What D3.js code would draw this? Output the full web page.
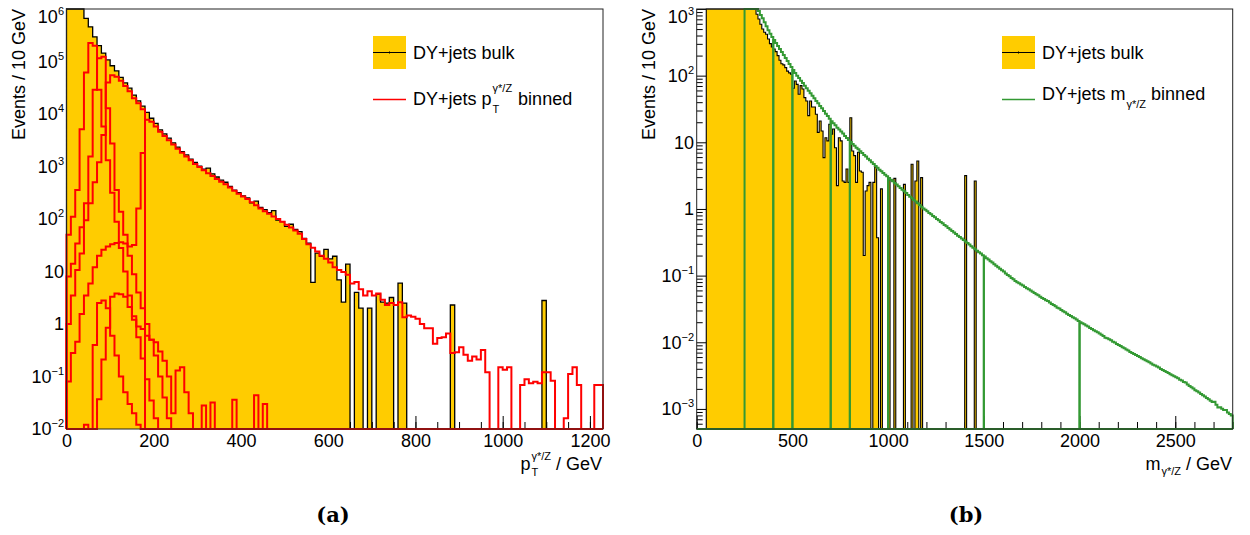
<!DOCTYPE html>
<html><head><meta charset="utf-8">
<script src="https://cdn.jsdelivr.net/npm/d3@7"></script>
<style>
body{margin:0;background:#fff}
svg{display:block}
text{font-family:"Liberation Sans",Arial,Helvetica,sans-serif;fill:#000;white-space:pre}
</style></head>
<body><svg id="c" width="1250" height="535"></svg>
<script>
// ---------------- DATA ----------------
const binWidth = 10;
const ptRange = [0, 1230];
const massRange = [0, 2800];
const ptYDomain = [1e-2, 1e6];
const massYDomain = [5e-4, 1e3];
const ptMajorTicks = [0, 200, 400, 600, 800, 1000, 1200];
const massMajorTicks = [0, 500, 1000, 1500, 2000, 2500];
const ptDecades = [-2, -1, 0, 1, 2, 3, 4, 5, 6];
const massDecades = [-3, -2, -1, 0, 1, 2, 3];

// pT panel: inclusive (bulk) sample, 10 GeV bins from 0
const bulkPt = [1.6e6, 2.9e6, 2.6e6, 1.5e6, 6.6e5, 4.57e5, 2.95e5, 2.0e5, 1.45e5, 1.07e5,
  8.3e4, 6.6e4, 5.0e4, 3.9e4, 3.1e4, 2.29e4, 1.78e4, 1.41e4, 1.07e4, 8300,
  6600, 5000, 4170, 3470, 2820, 2340, 1910, 1660, 1380, 1200,
  1020, 891, 933, 724, 631, 550, 501, 417, 355, 316,
  275, 251, 204, 219, 166, 151, 132, 145, 95.5, 89.1,
  72.4, 79.4, 63.1, 57.5, 42.7, 34.7, 6.2, 22.4, 19.5, 26.3,
  17.4, 19.5, 6.9, 2.6, 13.8, 0, 4.0, 2.0, 0, 2.0,
  0, 3.7, 2.6, 2.5, 3.2, 0, 6.0, 2.5, 0, 0,
  0, 0, 0, 0, 0, 0, 0, 0, 2.3, 0,
  0, 0, 0, 0, 0, 0, 0, 0, 0, 0,
  0, 0, 0, 0, 0, 0, 0, 0, 0, 2.8];

// pT-binned slices (10 GeV bins from 0)
const ptSliceA = [50, 110, 355, 5100, 62000, 224000, 200000, 29000, 5750, 1320, 316, 89, 28, 10, 3.5, 1.4, 0.56, 0.22, 0.089, 0.035, 0.016];
const ptSliceB = [8, 14, 34, 70, 200, 1550, 29000, 115000, 123000, 12900, 2750, 355, 138, 50, 20, 8.9, 4.0, 2.0, 1.0, 0.5, 0.25, 0.1, 0.04, 0.016];
const ptSliceC = [1.0, 3.5, 10.7, 22, 95, 200, 500, 1200, 4000, 40000, 55000, 51000, 43000, 34000, 27000, 20000, 16000, 12300];
const ptSliceD = [0.08, 0.28, 0.46, 1.55, 3.5, 5.9, 12, 20, 26, 30, 33, 35, 36, 34, 30, 32, 158, 1800,
  7760, 7080, 5750, 4570, 3800, 3160, 2630, 2190, 1820, 1550, 1320, 1120, 977, 851, 741, 661, 575, 513,
  457, 398, 347, 302, 269, 240, 209, 182, 158, 141, 126, 112, 100, 89.1, 77.6, 69.2, 60.3, 52.5, 41.7,
  33.1, 28.2, 24.0, 20.0, 17.4, 14.8, 12.0, 10.7, 9.8, 8.7, 5.9, 6.3, 4.6, 3.5, 4.2, 3.5, 3.8, 2.9, 2.3,
  2.5, 2.3, 2.6, 1.35, 1.45, 1.38, 1.26, 1.0, 0.83, 0.83, 0.42, 0.54, 0.56, 0.66, 0.28, 0.29, 0.36, 0.26,
  0.20, 0.24, 0.21, 0.32, 0.12, 0, 0, 0.15, 0.135, 0.15, 0, 0, 0.069, 0.089, 0.074, 0.079, 0.074, 0.12,
  0.12, 0.083, 0, 0, 0.016, 0.112, 0.15, 0.069, 0, 0, 0, 0.069, 0.069];
const ptSliceE = [0, 0, 0, 0, 0, 0, 0, 0.037, 0.21, 0.85, 3.3, 3.8, 3.7, 3.3, 2.1, 1.2, 0.9, 0.8, 0.6, 0.5,
  0.45, 0.3, 0.2, 0.1, 0.02, 0.13, 0.15, 0.05, 0.02, 0, 0, 0.028, 0, 0.032, 0, 0, 0, 0, 0.036, 0,
  0, 0, 0, 0.044, 0, 0.03];
const ptSliceF = [0, 0, 0, 0, 0.012, 0, 0.4, 2.5, 2.8, 2.0, 0.6, 0.25, 0.1, 0.05, 0.03, 0.02, 0.012];

// mass panel: bulk sample, 10 GeV bins from 0
const bulkMass = [0, 0, 0, 0, 0, 30000, 55000, 120000, 600000, 1900000,
  160000, 40000, 20000, 12000, 8000, 5800, 4500, 3700, 3100, 2700,
  2400, 2150, 1950, 1780, 1640, 1520, 1420, 1330, 1240, 1160,
  1090, 832, 708, 589, 501, 447, 417, 355, 302, 269,
  251, 229, 200, 170, 151, 145, 132, 117, 110, 105,
  64.6, 83.2, 74.1, 52.5, 70.8, 63.1, 46.8, 41.7, 25.1, 41.7,
  33.9, 33.9, 26.3, 14.1, 20.9, 14.8, 5.89, 11.7, 10.5, 18.6,
  13.2, 15.8, 8.3, 2.24, 11.7, 10.5, 2.63, 2.51, 3.98, 2.51,
  23.4, 7.41, 6.31, 2.51, 7.08, 3.72, 3.55, 0.2, 1.86, 2.24,
  2.51, 0, 2.51, 4.27, 0.37, 0, 2.0, 0, 0, 0,
  2.69, 0, 0, 2.88, 0, 0, 0, 0, 2.34, 0,
  0, 0, 4.68, 0, 2.63, 5.25, 0, 2.95, 0, 0,
  0, 0, 0, 0, 0, 0, 0, 0, 0, 0,
  0, 0, 0, 0, 0, 0, 0, 0, 0, 0,
  3.16, 0, 0, 0, 0, 2.63];

// mass-binned slices: edges, and 10 GeV bin contents from 250 GeV
const massSliceEdges = [250, 400, 500, 700, 800, 1000, 1500, 2000, 2800];
const massBinned = [2400, 2090, 1820, 1580, 1380, 1200, 1050, 933, 813, 724,
  631, 550, 479, 427, 380, 343, 309, 279, 251, 226,
  204, 184, 166, 150, 135, 122, 110, 100, 92.3, 84.1,
  77.6, 70.8, 64.6, 59.6, 54.3, 50.1, 45.7, 41.7, 38.5, 35.1,
  32.4, 29.5, 26.9, 24.8, 22.6, 20.7, 19.3, 18.0, 16.6, 15.5,
  14.5, 13.5, 12.4, 11.6, 10.8, 10.1, 9.44, 8.91, 8.32, 7.85,
  7.33, 6.92, 6.46, 6.10, 5.69, 5.37, 5.01, 4.73, 4.42, 4.17,
  3.89, 3.67, 3.47, 3.27, 3.09, 2.92, 2.75, 2.60, 2.45, 2.32,
  2.19, 2.07, 1.95, 1.84, 1.74, 1.62, 1.53, 1.45, 1.36, 1.29,
  1.22, 1.15, 1.08, 1.02, 0.977, 0.923, 0.871, 0.832, 0.785, 0.750,
  0.708, 0.676, 0.638, 0.610, 0.575, 0.550, 0.519, 0.490, 0.468, 0.442,
  0.422, 0.398, 0.380, 0.359, 0.343, 0.324, 0.309, 0.292, 0.275, 0.263,
  0.248, 0.237, 0.224, 0.214, 0.202, 0.193, 0.182, 0.174, 0.164, 0.157,
  0.148, 0.141, 0.133, 0.127, 0.120, 0.115, 0.108, 0.102, 0.0977, 0.0923,
  0.0881, 0.0832, 0.0794, 0.0767, 0.0733, 0.0708, 0.0676, 0.0646, 0.0624, 0.0596,
  0.0575, 0.0550, 0.0525, 0.0507, 0.0484, 0.0462, 0.0447, 0.0427, 0.0415, 0.0394,
  0.0376, 0.0363, 0.0347, 0.0331, 0.0320, 0.0305, 0.0292, 0.0282, 0.0269, 0.0257,
  0.0248, 0.0237, 0.0229, 0.0219, 0.0209, 0.0200, 0.0193, 0.0186, 0.0178, 0.0172,
  0.0164, 0.0158, 0.0151, 0.0146, 0.0141, 0.0135, 0.0130, 0.0124, 0.0117, 0.0115,
  0.0111, 0.0107, 0.0102, 0.00989, 0.00944, 0.00912, 0.00881, 0.00841, 0.00813, 0.00776,
  0.00750, 0.00716, 0.00692, 0.00668, 0.00646, 0.00624, 0.00603, 0.00575, 0.00556, 0.00537,
  0.00519, 0.00501, 0.00479, 0.00462, 0.00447, 0.00432, 0.00417, 0.00398, 0.00385, 0.00372,
  0.00359, 0.00347, 0.00331, 0.00320, 0.00309, 0.00299, 0.00288, 0.00275, 0.00266, 0.00254,
  0.00250, 0.00232, 0.00221, 0.00211, 0.00202, 0.00190, 0.00184, 0.00176, 0.00168, 0.00160,
  0.00153, 0.00146, 0.00140, 0.00133, 0.00127, 0.00128, 0.00116, 0.00105, 0.00106, 0.00101,
  0.000966, 0.000960, 0.000881, 0.000841, 0.000794];

// ---------------- DRAWING ----------------
const svg = d3.select("#c");
const YELLOW = "#ffcc00", RED = "#ff0000", GREEN = "#339933";

function stepPath(vals, x0, w, n, x, y, yb, yt) {
  const cy = v => (v > 0) ? Math.max(yt, Math.min(yb, y(v))) : yb;
  let d = `M${x(x0)},${yb}`;
  for (let i = 0; i < n; i++) {
    const v = i < vals.length ? vals[i] : 0;
    const yy = cy(v);
    d += `L${x(x0 + i * w)},${yy}L${x(x0 + (i + 1) * w)},${yy}`;
  }
  d += `L${x(x0 + n * w)},${yb}`;
  return d;
}

function yLabels(g, y, decades, xEnd, topDec) {
  decades.forEach(k => {
    const t = g.append("text").attr("x", xEnd).attr("y", y(Math.pow(10, k)) + (k === topDec ? 8 : 0))
      .attr("dy", "0.35em").attr("text-anchor", "end").style("font-size", "18px");
    if (k === 0) t.text("1");
    else if (k === 1) t.text("10");
    else {
      t.append("tspan").text("10");
      t.append("tspan").attr("dy", -8).style("font-size", "11px").text(k < 0 ? "\u2212" + (-k) : String(k));
    }
  });
}

function axes(g, x, y, cfg) {
  const gxMinor = g.append("g").attr("transform", `translate(0,${cfg.bottom})`)
    .call(d3.axisBottom(x).tickValues(cfg.xMinor).tickSize(-7).tickFormat(""));
  const gxMajor = g.append("g").attr("transform", `translate(0,${cfg.bottom})`)
    .call(d3.axisBottom(x).tickValues(cfg.xMajor).tickSize(-13).tickPadding(5).tickFormat(d3.format("d")));
  const gyMinor = g.append("g").attr("transform", `translate(${cfg.left},0)`)
    .call(d3.axisLeft(y).tickValues(cfg.yMinor).tickSize(-6).tickFormat(""));
  const gyMajor = g.append("g").attr("transform", `translate(${cfg.left},0)`)
    .call(d3.axisLeft(y).tickValues(cfg.decades.map(k => Math.pow(10, k))).tickSize(-10).tickFormat(""));
  [gxMinor, gxMajor, gyMinor, gyMajor].forEach(a => {
    a.select(".domain").remove();
    a.selectAll(".tick line").attr("stroke", "#000").attr("stroke-width", 1);
  });
  gxMajor.selectAll(".tick text").style("font-size", "18px").attr("fill", "#000")
    .style("font-family", "'Liberation Sans',Arial,sans-serif");
}

function minorLog(dom) {
  const out = [];
  for (let k = -5; k <= 7; k++) for (let m = 2; m <= 9; m++) {
    const v = m * Math.pow(10, k);
    if (v > dom[0] && v < dom[1]) out.push(v);
  }
  return out;
}

function frame(g, cfg) {
  g.append("rect").attr("x", cfg.left).attr("y", cfg.top)
    .attr("width", cfg.right - cfg.left).attr("height", cfg.bottom - cfg.top)
    .attr("fill", "none").attr("stroke", "#222").attr("stroke-width", 1);
}

function measure(g, txt, size) {
  const t = g.append("text").style("font-size", size + "px").text(txt);
  const w = t.node().getComputedTextLength();
  t.remove();
  return w;
}

// ====== Panel (a): pT ======
(function () {
  const cfg = { left: 66.5, right: 603, top: 9, bottom: 429 };
  const g = svg.append("g");
  const x = d3.scaleLinear().domain(ptRange).range([cfg.left, cfg.right]);
  const y = d3.scaleLog().domain(ptYDomain).range([cfg.bottom, cfg.top]);
  const nb = (ptRange[1] - ptRange[0]) / binWidth;
  cfg.xMajor = ptMajorTicks;
  cfg.xMinor = d3.range(0, 1231, 50);
  cfg.yMinor = minorLog(ptYDomain);
  cfg.decades = ptDecades;
  axes(g, x, y, cfg);

  const d = stepPath(bulkPt, 0, binWidth, nb, x, y, cfg.bottom, cfg.top);
  g.append("path").attr("d", d + "Z").attr("fill", YELLOW).attr("stroke", "none");
  g.append("path").attr("d", d).attr("fill", "none").attr("stroke", "#000").attr("stroke-width", 1.3);

  [ptSliceA, ptSliceB, ptSliceC, ptSliceD, ptSliceE, ptSliceF].forEach(s => {
    g.append("path").attr("d", stepPath(s, 0, binWidth, nb, x, y, cfg.bottom, cfg.top))
      .attr("fill", "none").attr("stroke", RED).attr("stroke-width", 2).attr("stroke-linejoin", "miter");
  });
  frame(g, cfg);
  yLabels(g, y, ptDecades, 64, 6);

  g.append("text").attr("transform", "translate(25,9) rotate(-90)").attr("text-anchor", "end")
    .style("font-size", "18px").text("Events / 10 GeV");

  // x title  p_T^{γ*/Z} / GeV
  const wp = measure(g, "p", 18), wsup = measure(g, "\u03b3*/Z", 11), wT = measure(g, "T", 11);
  const wsp = measure(g, "a a", 18) - measure(g, "aa", 18);
  const wr = measure(g, "/ GeV", 18);
  const tot = wp + 1 + Math.max(wsup, wT) + wsp + wr;
  const x0 = 602 - tot, yb = 470;
  g.append("text").attr("x", x0).attr("y", yb).style("font-size", "18px").text("p");
  g.append("text").attr("x", x0 + wp + 1).attr("y", yb + 6).style("font-size", "11px").text("T");
  g.append("text").attr("x", x0 + wp + 1).attr("y", yb - 10).style("font-size", "11px").text("\u03b3*/Z");
  g.append("text").attr("x", x0 + wp + 1 + Math.max(wsup, wT) + wsp).attr("y", yb).style("font-size", "18px").text("/ GeV");

  // legend
  const lx = 373, lw = 33;
  g.append("rect").attr("x", lx).attr("y", 36).attr("width", lw).attr("height", 33).attr("fill", YELLOW);
  g.append("line").attr("x1", lx).attr("x2", lx + lw).attr("y1", 52.5).attr("y2", 52.5).attr("stroke", "#000").attr("stroke-width", 1);
  g.append("line").attr("x1", lx + lw / 2).attr("x2", lx + lw / 2).attr("y1", 51.5).attr("y2", 53.5).attr("stroke", "#000");
  g.append("text").attr("x", 413).attr("y", 58.5).style("font-size", "18px").text("DY+jets bulk");
  g.append("line").attr("x1", lx).attr("x2", lx + lw).attr("y1", 99.5).attr("y2", 99.5).attr("stroke", RED).attr("stroke-width", 1.5);
  const w1 = measure(g, "DY+jets p", 18);
  g.append("text").attr("x", 413).attr("y", 105).style("font-size", "18px").text("DY+jets p");
  g.append("text").attr("x", 413 + w1 + 1).attr("y", 113).style("font-size", "11px").text("T");
  g.append("text").attr("x", 413 + w1 + 1).attr("y", 92).style("font-size", "11px").text("\u03b3*/Z");
  g.append("text").attr("x", 413 + w1 + 1 + wsup + wsp + 1).attr("y", 105).style("font-size", "18px").text("binned");

  svg.append("text").attr("x", 333).attr("y", 522).attr("text-anchor", "middle")
    .style("font-family", "'DejaVu Serif',serif").style("font-weight", "bold").style("font-size", "21px").text("(a)");
})();

// ====== Panel (b): mass ======
(function () {
  const cfg = { left: 696.7, right: 1232.7, top: 9, bottom: 429 };
  const g = svg.append("g");
  const x = d3.scaleLinear().domain(massRange).range([cfg.left, cfg.right]);
  const y = d3.scaleLog().domain(massYDomain).range([cfg.bottom, cfg.top]);
  const nb = (massRange[1] - massRange[0]) / binWidth;
  cfg.xMajor = massMajorTicks;
  cfg.xMinor = d3.range(0, 2801, 100);
  cfg.yMinor = minorLog(massYDomain);
  cfg.decades = massDecades;
  axes(g, x, y, cfg);

  const d = stepPath(bulkMass, 0, binWidth, nb, x, y, cfg.bottom, cfg.top);
  g.append("path").attr("d", d + "Z").attr("fill", YELLOW).attr("stroke", "none");
  g.append("path").attr("d", d).attr("fill", "none").attr("stroke", "#000").attr("stroke-width", 1.1);

  g.append("line").attr("x1", x(0)).attr("x2", x(2800)).attr("y1", cfg.bottom).attr("y2", cfg.bottom)
    .attr("stroke", GREEN).attr("stroke-width", 2);
  for (let k = 0; k < massSliceEdges.length - 1; k++) {
    const a = massSliceEdges[k], b = massSliceEdges[k + 1];
    const vals = massBinned.slice((a - 250) / binWidth, (b - 250) / binWidth);
    g.append("path").attr("d", stepPath(vals, a, binWidth, (b - a) / binWidth, x, y, cfg.bottom, cfg.top))
      .attr("fill", "none").attr("stroke", GREEN).attr("stroke-width", 2);
  }
  frame(g, cfg);
  yLabels(g, y, massDecades, 694, 3);

  g.append("text").attr("transform", "translate(655,9) rotate(-90)").attr("text-anchor", "end")
    .style("font-size", "18px").text("Events / 10 GeV");

  // x title m_{γ*/Z} / GeV
  const wm = measure(g, "m", 18), wsub = measure(g, "\u03b3*/Z", 11);
  const wsp = measure(g, "a a", 18) - measure(g, "aa", 18);
  const wr = measure(g, "/ GeV", 18);
  const tot = wm + 1 + wsub + wsp + wr;
  const x0 = 1232 - tot, yb = 470;
  g.append("text").attr("x", x0).attr("y", yb).style("font-size", "18px").text("m");
  g.append("text").attr("x", x0 + wm + 1).attr("y", yb + 5).style("font-size", "11px").text("\u03b3*/Z");
  g.append("text").attr("x", x0 + wm + 1 + wsub + wsp).attr("y", yb).style("font-size", "18px").text("/ GeV");

  // legend
  const lx = 1002, lw = 33;
  g.append("rect").attr("x", lx).attr("y", 36).attr("width", lw).attr("height", 33).attr("fill", YELLOW);
  g.append("line").attr("x1", lx).attr("x2", lx + lw).attr("y1", 52.5).attr("y2", 52.5).attr("stroke", "#000").attr("stroke-width", 1);
  g.append("line").attr("x1", lx + lw / 2).attr("x2", lx + lw / 2).attr("y1", 51.5).attr("y2", 53.5).attr("stroke", "#000");
  g.append("text").attr("x", 1042).attr("y", 58.5).style("font-size", "18px").text("DY+jets bulk");
  g.append("line").attr("x1", lx).attr("x2", lx + lw).attr("y1", 99.5).attr("y2", 99.5).attr("stroke", GREEN).attr("stroke-width", 1.5);
  const w1 = measure(g, "DY+jets m", 18);
  g.append("text").attr("x", 1042).attr("y", 100).style("font-size", "18px").text("DY+jets m");
  g.append("text").attr("x", 1042 + w1 + 1).attr("y", 108).style("font-size", "11px").text("\u03b3*/Z");
  g.append("text").attr("x", 1042 + w1 + 1 + wsub + wsp).attr("y", 100).style("font-size", "18px").text("binned");

  svg.append("text").attr("x", 966).attr("y", 522).attr("text-anchor", "middle")
    .style("font-family", "'DejaVu Serif',serif").style("font-weight", "bold").style("font-size", "21px").text("(b)");
})();
</script></body></html>
